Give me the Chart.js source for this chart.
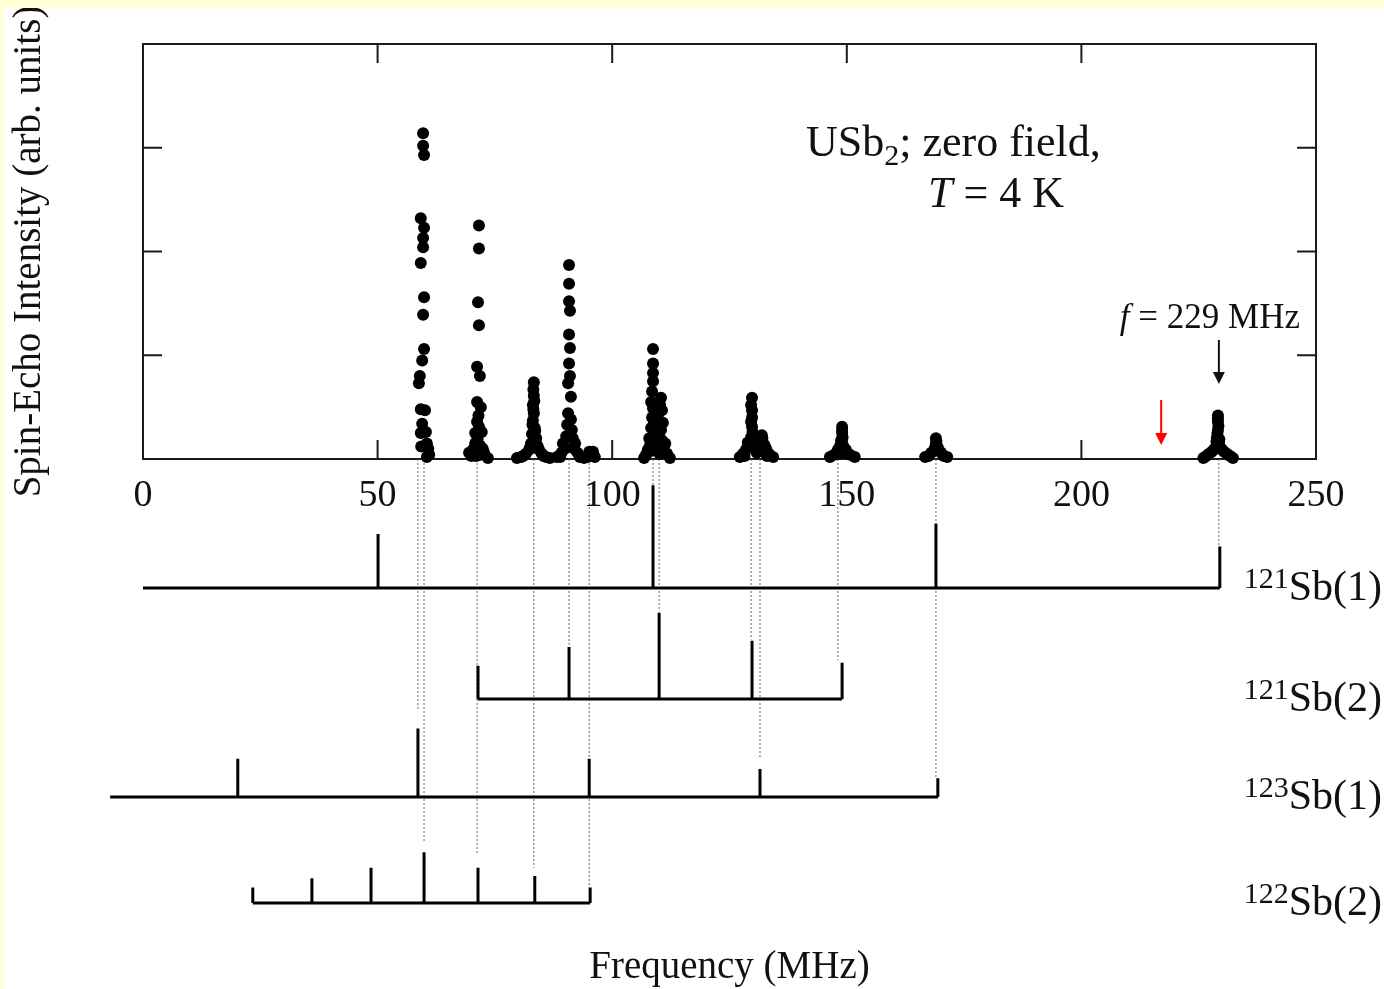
<!DOCTYPE html>
<html>
<head>
<meta charset="utf-8">
<script src="https://cdn.jsdelivr.net/npm/chart.js@4.4.0/dist/chart.umd.min.js"></script>
<style>
  html, body { margin: 0; padding: 0; background: #ffffd4; }
  #wrap { position: absolute; left: 4px; top: 8px; width: 1380px; height: 981px; background: #fff; }
</style>
</head>
<body>
<div id="wrap"><canvas id="echoChart" width="1380" height="981"></canvas></div>
<script>
const xTicks = [0, 50, 100, 150, 200, 250];
const yTicks = [1, 2, 3];

// spin-echo points: [frequency MHz, intensity arb.]
const peak60 = [[59.7,3.14],[59.7,3.02],[59.9,2.93],[59.2,2.32],[59.9,2.23],[59.7,2.13],[59.7,2.04],[59.2,1.89],[59.9,1.56],[59.7,1.39],[59.9,1.06],[59.5,0.95],[59.0,0.80],[58.8,0.73],[59.2,0.48],[60.1,0.47],[59.5,0.34],[59.2,0.25],[60.3,0.26],[60.5,0.15],[61.0,0.04],[60.5,0.02],[60.8,0.10],[59.3,0.12]];
const peak71 = [[71.6,2.25],[71.6,2.03],[71.4,1.51],[71.6,1.29],[71.2,0.89],[71.8,0.80],[71.2,0.55],[72.0,0.50],[71.2,0.36],[71.6,0.31],[70.8,0.25],[72.2,0.26],[70.8,0.15],[71.8,0.13],[69.5,0.06],[70.3,0.09],[72.7,0.06],[73.5,0.01],[71.0,0.03],[72.0,0.04],[70.0,0.03],[72.4,0.10],[71.3,0.19],[71.5,0.42]];
const peak83 = [[83.3,0.74],[83.3,0.61],[83.1,0.52],[83.3,0.44],[83.1,0.37],[83.5,0.30],[82.9,0.24],[83.8,0.20],[82.7,0.15],[84.0,0.13],[82.3,0.09],[84.4,0.09],[81.6,0.05],[85.0,0.05],[80.6,0.02],[85.9,0.02],[79.7,0.01],[86.7,0.01],[83.2,0.67],[83.4,0.56],[83.2,0.48],[83.0,0.33],[83.6,0.27],[82.5,0.11],[84.2,0.11],[81.0,0.03],[85.4,0.03]];
const peak91 = [[90.8,1.87],[90.8,1.69],[90.8,1.52],[91.0,1.43],[90.8,1.20],[91.0,1.07],[90.8,0.92],[91.0,0.80],[90.6,0.73],[91.2,0.60],[90.6,0.44],[91.2,0.38],[90.4,0.33],[91.4,0.28],[90.2,0.22],[91.6,0.20],[89.5,0.15],[92.1,0.15],[88.9,0.02],[93.1,0.02],[88.2,0.02],[94.0,0.01],[90.0,0.10],[91.8,0.10],[89.2,0.06],[92.6,0.06]];
const peak95 = [[95.1,0.07],[95.9,0.07],[94.7,0.02],[96.3,0.02]];
const peak109 = [[108.7,1.06],[108.7,0.92],[108.7,0.83],[108.7,0.75],[108.5,0.65],[108.7,0.49],[108.5,0.40],[108.3,0.30],[108.9,0.22],[108.1,0.14],[107.6,0.09],[107.2,0.04],[106.8,0.01],[108.3,0.55],[108.9,0.35],[109.1,0.45],[107.9,0.20],[109.8,0.15],[110.1,0.05],[108.5,0.08]];
const peak110 = [[110.4,0.59],[110.6,0.47],[109.9,0.38],[110.4,0.28],[110.6,0.18],[111.0,0.11],[111.7,0.05],[112.3,0.01],[109.4,0.33],[109.6,0.25],[109.2,0.12],[110.2,0.52],[110.8,0.35],[111.3,0.15]];
const peak130 = [[129.8,0.59],[129.8,0.47],[129.8,0.40],[129.8,0.31],[129.6,0.21],[129.2,0.13],[128.5,0.09],[127.9,0.05],[127.2,0.02],[130.4,0.12],[129.6,0.52],[129.6,0.36],[129.9,0.26],[130.2,0.17],[128.9,0.16],[130.8,0.06],[128.2,0.03]];
const peak132 = [[131.9,0.23],[132.1,0.16],[131.5,0.13],[132.8,0.10],[133.4,0.05],[134.3,0.02],[132.0,0.20],[131.7,0.08],[132.5,0.13],[133.0,0.03]];
const peak149 = [[149.0,0.31],[149.0,0.25],[148.8,0.18],[149.2,0.13],[148.1,0.09],[149.8,0.09],[147.3,0.04],[150.7,0.04],[146.4,0.02],[151.7,0.02],[149.0,0.28],[149.1,0.21],[148.6,0.13],[149.5,0.06],[148.4,0.05]];
const peak169 = [[169.0,0.20],[169.0,0.15],[168.8,0.11],[169.4,0.11],[168.0,0.06],[170.1,0.06],[166.7,0.02],[171.4,0.02],[169.1,0.17],[168.6,0.08],[169.7,0.08],[167.4,0.03],[170.7,0.03]];
const peak229 = [[229.1,0.42],[229.1,0.36],[229.1,0.28],[228.9,0.21],[229.3,0.16],[228.7,0.12],[229.5,0.12],[227.8,0.07],[230.4,0.07],[226.6,0.03],[231.7,0.03],[226.0,0.01],[232.3,0.01],[229.1,0.39],[229.2,0.32],[229.0,0.25],[228.8,0.17],[229.4,0.19],[228.2,0.09],[230.0,0.09],[227.2,0.05],[231.0,0.05]];

// calculated line positions (stick diagrams), one per row
const rowIsotope = ['121', '121', '123', '122'];
const rowSite = ['Sb(1)', 'Sb(2)', 'Sb(1)', 'Sb(2)'];
const rowLevel = [-1.243, -2.313, -3.258, -4.280];
const rowStart = [0, 71.4, -7.0, 23.4];
const rowEnd = [229.5, 149.0, 169.4, 95.3];
const rowFreq = [
  [50.1, 108.7, 169.0, 229.5],
  [71.4, 90.8, 110.0, 129.8, 149.0],
  [20.2, 58.6, 95.1, 131.5, 169.4],
  [23.4, 36.0, 48.6, 59.9, 71.4, 83.5, 95.3]
];
const rowHeight = [
  [0.52, 0.99, 0.62, 0.40],
  [0.32, 0.50, 0.83, 0.56, 0.35],
  [0.37, 0.66, 0.37, 0.27, 0.18],
  [0.15, 0.24, 0.34, 0.49, 0.34, 0.26, 0.15]
];

// dotted guides from the axis down to the matching line
const guideFreq = [58.6, 59.9, 71.2, 83.3, 90.8, 95.1, 108.7, 110.0, 129.6, 131.5, 148.1, 169.0, 229.3];
const guideEnd = [-2.43, -3.69, -3.80, -3.94, -1.79, -4.13, -0.27, -1.47, -1.74, -2.88, -1.94, -3.07, -0.85];

// arrows: frequency, from, to
const arrowFreq = [229.3, 217.0];
const arrowFrom = [1.147, 0.569];
const arrowTo = [0.723, 0.135];
const arrowColor = ['#111', '#ff0000'];

const serif = '"Liberation Serif", "Times New Roman", serif';

const echoPoints = [].concat(peak60, peak71, peak83, peak91, peak95, peak109, peak110,
  peak130, peak132, peak149, peak169, peak229).map(p => ({ x: p[0], y: p[1] }));

function stickPath(i) {
  const lv = rowLevel[i];
  const pts = [{ x: rowStart[i], y: lv }, { x: rowEnd[i], y: lv }];
  rowFreq[i].forEach((f, k) => {
    pts.push({ x: f, y: null });
    pts.push({ x: f, y: lv });
    pts.push({ x: f, y: lv + rowHeight[i][k] });
  });
  return pts;
}

const guidePts = [];
guideFreq.forEach((f, i) => {
  guidePts.push({ x: f, y: null });
  guidePts.push({ x: f, y: 0 });
  guidePts.push({ x: f, y: guideEnd[i] });
});

const datasets = [{
  data: echoPoints,
  pointRadius: 6,
  pointBackgroundColor: '#000',
  pointBorderWidth: 0,
  clip: false
}];
rowLevel.forEach((lv, i) => {
  datasets.push({
    data: stickPath(i),
    showLine: true,
    borderColor: '#000',
    borderWidth: 3,
    pointRadius: 0,
    clip: false
  });
});
datasets.push({
  data: guidePts,
  showLine: true,
  borderColor: '#666',
  borderWidth: 1,
  borderDash: [2, 2],
  pointRadius: 0,
  clip: false
});

function drawSupText(ctx, x, y, parts) {
  // parts: [text, size, dy, italic]
  parts.forEach(p => {
    ctx.font = (p[3] ? 'italic ' : '') + p[1] + 'px ' + serif;
    ctx.fillText(p[0], x, y + p[2]);
    x += ctx.measureText(p[0]).width;
  });
}

const decor = {
  id: 'decor',
  beforeDatasetsDraw(chart) {
    const { ctx, chartArea: a, scales: { x, y } } = chart;
    ctx.save();
    ctx.strokeStyle = '#1a1a1a';
    ctx.lineWidth = 2;
    ctx.strokeRect(a.left, a.top, a.right - a.left, a.bottom - a.top);
    ctx.beginPath();
    xTicks.slice(1, -1).forEach(v => {
      const px = x.getPixelForValue(v);
      ctx.moveTo(px, a.bottom); ctx.lineTo(px, a.bottom - 19);
      ctx.moveTo(px, a.top); ctx.lineTo(px, a.top + 19);
    });
    yTicks.forEach(v => {
      const py = y.getPixelForValue(v);
      ctx.moveTo(a.left, py); ctx.lineTo(a.left + 19, py);
      ctx.moveTo(a.right, py); ctx.lineTo(a.right - 19, py);
    });
    ctx.stroke();
    ctx.restore();
  },
  afterDraw(chart) {
    const { ctx, chartArea: a, scales: { x, y } } = chart;
    ctx.save();
    ctx.fillStyle = '#111';
    // tick labels
    ctx.font = '38px ' + serif;
    ctx.textAlign = 'center';
    ctx.textBaseline = 'alphabetic';
    xTicks.forEach(v => ctx.fillText(String(v), x.getPixelForValue(v), a.bottom + 47));
    // axis titles
    ctx.font = '39px ' + serif;
    ctx.fillText('Frequency (MHz)', (a.left + a.right) / 2, 970);
    ctx.save();
    ctx.translate(26, (a.top + a.bottom) / 2);
    ctx.rotate(-Math.PI / 2);
    ctx.textBaseline = 'middle';
    ctx.fillText('Spin-Echo Intensity (arb. units)', 0, 0);
    ctx.restore();
    // annotation text
    ctx.textAlign = 'left';
    drawSupText(ctx, x.getPixelForValue(141.3), y.getPixelForValue(2.92),
      [['USb', 44, 0], ['2', 30, 9], ['; zero field,', 44, 0]]);
    drawSupText(ctx, x.getPixelForValue(167.3), y.getPixelForValue(2.43),
      [['T', 44, 0, true], [' = 4 K', 44, 0]]);
    drawSupText(ctx, x.getPixelForValue(208.2), y.getPixelForValue(1.263),
      [['f', 35, 0, true], [' = 229 MHz', 35, 0]]);
    // row labels
    rowLevel.forEach((lv, i) => {
      drawSupText(ctx, x.getPixelForValue(234.6), y.getPixelForValue(lv) + 12,
        [[rowIsotope[i], 30, -12], [rowSite[i], 42, 0]]);
    });
    // arrows
    arrowFreq.forEach((f, i) => {
      const px = x.getPixelForValue(f);
      const y0 = y.getPixelForValue(arrowFrom[i]);
      const y1 = y.getPixelForValue(arrowTo[i]);
      ctx.strokeStyle = arrowColor[i];
      ctx.fillStyle = arrowColor[i];
      ctx.lineWidth = 2;
      ctx.beginPath();
      ctx.moveTo(px, y0); ctx.lineTo(px, y1 - 8);
      ctx.stroke();
      ctx.beginPath();
      ctx.moveTo(px - 6, y1 - 12); ctx.lineTo(px + 6, y1 - 12); ctx.lineTo(px, y1);
      ctx.closePath();
      ctx.fill();
    });
    ctx.restore();
  }
};

new Chart(document.getElementById('echoChart'), {
  type: 'scatter',
  data: { datasets: datasets },
  options: {
    responsive: false,
    animation: false,
    events: [],
    layout: { padding: { left: 139, top: 36, right: 68, bottom: 530 } },
    plugins: { legend: { display: false }, tooltip: { enabled: false } },
    scales: {
      x: { type: 'linear', min: 0, max: 250, display: false },
      y: { type: 'linear', min: 0, max: 4, display: false }
    }
  },
  plugins: [decor]
});
</script>
</body>
</html>
